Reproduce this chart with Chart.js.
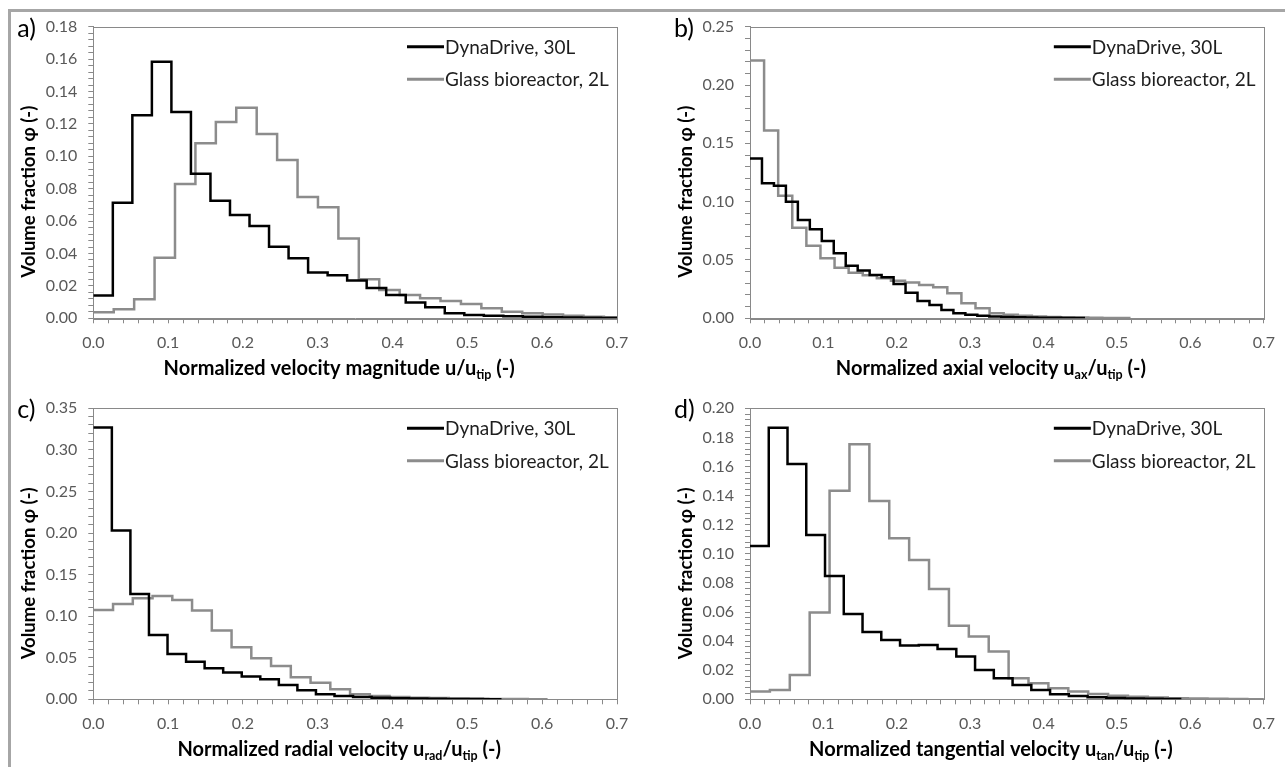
<!DOCTYPE html>
<html>
<head>
<meta charset="utf-8">
<script src="https://cdn.jsdelivr.net/npm/chart.js@4.4.0/dist/chart.umd.min.js"></script>
<style>
body { margin: 0; background: #fff; width: 1285px; height: 767px; overflow: hidden; position: relative; }
.frame { position: absolute; left: 8px; top: 9px; width: 1300px; height: 780px; border: 3px solid #a6a6a6; box-sizing: border-box; }
canvas { position: absolute; }
</style>
</head>
<body>
<div class="frame"></div>
<canvas id="chartA" width="640" height="384" style="left:0;top:0"></canvas>
<canvas id="chartB" width="645" height="384" style="left:640px;top:0"></canvas>
<canvas id="chartC" width="640" height="383" style="left:0;top:384px"></canvas>
<canvas id="chartD" width="645" height="383" style="left:640px;top:384px"></canvas>
<script>
const seriesNames = ['DynaDrive, 30L', 'Glass bioreactor, 2L'];

// a) velocity magnitude (bin width read from the step spacing)
const aDynaBin = 0.0261;
const aDyna = [0.014, 0.0714, 0.1253, 0.1584, 0.1274, 0.0893, 0.0726, 0.0638, 0.057, 0.0442, 0.037, 0.0282, 0.0265, 0.0233, 0.0187, 0.0144, 0.0097, 0.0068, 0.0031, 0.002, 0.0015, 0.0012, 0.001, 0.0007, 0.0005, 0.0003, 0.0002];
const aGlassBin = 0.0273;
const aGlass = [0.0037, 0.0056, 0.0117, 0.0374, 0.0829, 0.108, 0.1212, 0.13, 0.1138, 0.0977, 0.0749, 0.0685, 0.0492, 0.0241, 0.0175, 0.0144, 0.0123, 0.0107, 0.0088, 0.0062, 0.0041, 0.0031, 0.0023, 0.0016, 0.001, 0.0006];

// b) axial
const bDynaBin = 0.0163;
const bDyna = [0.137, 0.1157, 0.1137, 0.1, 0.0843, 0.0763, 0.0663, 0.0557, 0.0451, 0.0409, 0.0371, 0.0351, 0.0294, 0.022, 0.0149, 0.0114, 0.0071, 0.0043, 0.003, 0.0022, 0.0016, 0.0012, 0.0009, 0.0007, 0.0005, 0.0004, 0.0003, 0.0002];
const bGlassBin = 0.0192;
const bGlass = [0.221, 0.161, 0.105, 0.0777, 0.0623, 0.0514, 0.0434, 0.0391, 0.0369, 0.0343, 0.0323, 0.0306, 0.0286, 0.0266, 0.0214, 0.0129, 0.0086, 0.0043, 0.003, 0.0022, 0.0016, 0.0012, 0.0009, 0.0006, 0.0004, 0.0003, 0.0002];

// c) radial
const cDynaBin = 0.0248;
const cDyna = [0.327, 0.203, 0.1267, 0.0774, 0.0545, 0.0453, 0.0373, 0.0321, 0.0273, 0.024, 0.0172, 0.011, 0.006, 0.004, 0.0028, 0.002, 0.0014, 0.001, 0.0007, 0.0005, 0.0003, 0.0002];
const cGlassBin = 0.0264;
const cGlass = [0.1075, 0.1147, 0.1215, 0.1243, 0.1195, 0.1067, 0.0826, 0.0625, 0.0493, 0.0401, 0.0265, 0.02, 0.012, 0.006, 0.004, 0.0028, 0.002, 0.0015, 0.001, 0.0008, 0.0005, 0.0003, 0.0002];

// d) tangential
const dDynaBin = 0.02555;
const dDyna = [0.1054, 0.1867, 0.1617, 0.1129, 0.0848, 0.0586, 0.0463, 0.0408, 0.0369, 0.0373, 0.0346, 0.0295, 0.0202, 0.0144, 0.0099, 0.0064, 0.0034, 0.0023, 0.0014, 0.0009, 0.0005, 0.0003, 0.0002];
const dGlassBin = 0.0271;
const dGlass = [0.0053, 0.0064, 0.0167, 0.0596, 0.1434, 0.1753, 0.1363, 0.1107, 0.0958, 0.0758, 0.0506, 0.0431, 0.0328, 0.0144, 0.011, 0.0076, 0.0053, 0.0037, 0.0025, 0.0018, 0.0012, 0.0008, 0.0005, 0.0003, 0.0002, 0.0001];

const xMax = 0.7, xMajor = 0.1, xMinor = 0.02;

const axisGray = '#898989';
const tickText = '#595959';
const fontName = 'Lato';

// histogram bins -> step points (left edges + closing right edge)
function binPoints(values, width) {
    const pts = values.map((v, i) => ({ x: i * width, y: v }));
    pts.push({ x: values.length * width, y: values[values.length - 1] });
    return pts;
}

function isMultiple(v, step) {
    const r = v / step;
    return Math.abs(r - Math.round(r)) < 1e-6;
}

function drawRich(ctx, parts, cx, y) {
    const mainFont = 'bold 20px ' + fontName;
    const subFont = 'bold 12.5px ' + fontName;
    let w = 0;
    parts.forEach(p => { ctx.font = p[1] ? subFont : mainFont; w += ctx.measureText(p[0]).width; });
    let x = cx - w / 2;
    ctx.textAlign = 'left';
    ctx.textBaseline = 'alphabetic';
    parts.forEach(p => {
        ctx.font = p[1] ? subFont : mainFont;
        ctx.fillText(p[0], x, p[1] ? y + 4 : y);
        x += ctx.measureText(p[0]).width;
    });
}

const panelDecor = {
    id: 'panelDecor',
    beforeDatasetsDraw(chart) {
        const a = chart.chartArea;
        const ctx = chart.ctx;
        ctx.save();
        ctx.strokeStyle = axisGray;
        ctx.lineWidth = 1;
        ctx.strokeRect(Math.round(a.left) + 0.5, Math.round(a.top) + 0.5, Math.round(a.right - a.left), Math.round(a.bottom - a.top));
        ctx.restore();
    },
    afterDraw(chart, args, opts) {
        const a = chart.chartArea;
        const ctx = chart.ctx;
        ctx.save();
        ctx.fillStyle = '#000';

        // panel letter
        ctx.font = '25px ' + fontName;
        ctx.textAlign = 'left';
        ctx.textBaseline = 'alphabetic';
        ctx.fillText(opts.letter, a.left - 76, a.top + 10);

        // y title
        ctx.save();
        ctx.translate(a.left - 64, a.top + 165);
        ctx.rotate(-Math.PI / 2);
        ctx.font = 'bold 18.5px ' + fontName;
        ctx.textAlign = 'center';
        ctx.textBaseline = 'middle';
        ctx.fillText('Volume fraction φ (-)', 0, 0);
        ctx.restore();

        // x title with subscripts
        drawRich(ctx, opts.xTitle, (a.left + a.right) / 2 - 16, a.bottom + 57);

        // legend
        const sets = chart.data.datasets;
        ctx.font = '19px ' + fontName;
        ctx.textBaseline = 'middle';
        sets.forEach((ds, i) => {
            const y = a.top + 20 + i * 32.5;
            const x0 = a.right - 210;
            ctx.strokeStyle = ds.borderColor;
            ctx.lineWidth = 3;
            ctx.beginPath();
            ctx.moveTo(x0, y);
            ctx.lineTo(x0 + 37, y);
            ctx.stroke();
            ctx.fillStyle = '#1e1e1e';
            ctx.fillText(ds.label, x0 + 38, y + 1);
        });
        ctx.restore();
    }
};

function makePanel(id, dyna, dynaBin, glass, glassBin, yMax, yMajor, yMinor, letter, xTitle, pad) {
    return new Chart(document.getElementById(id), {
        type: 'line',
        data: {
            datasets: [{
                label: seriesNames[0],
                data: binPoints(dyna, dynaBin),
                borderColor: '#000000',
                borderWidth: 2.5,
                stepped: 'before',
                pointRadius: 0,
                fill: false,
                order: 1
            }, {
                label: seriesNames[1],
                data: binPoints(glass, glassBin),
                borderColor: '#8c8c8c',
                borderWidth: 2.5,
                stepped: 'before',
                pointRadius: 0,
                fill: false,
                order: 2
            }]
        },
        options: {
            responsive: false,
            animation: false,
            devicePixelRatio: 1,
            layout: { padding: pad },
            plugins: {
                legend: { display: false },
                tooltip: { enabled: false },
                panelDecor: { letter: letter, xTitle: xTitle }
            },
            scales: {
                x: {
                    type: 'linear',
                    min: 0,
                    max: xMax,
                    afterFit: s => { s.height = 30; },
                    border: { color: axisGray },
                    grid: { drawOnChartArea: false, color: axisGray, tickLength: 5 },
                    ticks: {
                        stepSize: xMinor,
                        autoSkip: false,
                        maxRotation: 0,
                        padding: 10,
                        color: tickText,
                        font: { family: fontName, size: 16 },
                        callback: v => isMultiple(v, xMajor) ? v.toFixed(1) : ''
                    }
                },
                y: {
                    min: 0,
                    max: yMax,
                    afterFit: s => { s.width = 80; },
                    border: { color: axisGray },
                    grid: { drawOnChartArea: false, color: axisGray, tickLength: 5 },
                    ticks: {
                        stepSize: yMinor,
                        autoSkip: false,
                        padding: 11,
                        color: tickText,
                        font: { family: fontName, size: 16 },
                        callback: v => isMultiple(v, yMajor) ? v.toFixed(2) : ''
                    }
                }
            }
        },
        plugins: [panelDecor]
    });
}

makePanel('chartA', aDyna, aDynaBin, aGlass, aGlassBin, 0.18, 0.02, 0.004, 'a)',
    [['Normalized velocity magnitude u/u', false], ['tip', true], [' (-)', false]],
    { left: 13.3, right: 23, top: 26.7, bottom: 35.7 });
makePanel('chartB', bDyna, bDynaBin, bGlass, bGlassBin, 0.25, 0.05, 0.01, 'b)',
    [['Normalized axial velocity u', false], ['ax', true], ['/u', false], ['tip', true], [' (-)', false]],
    { left: 30, right: 11.7, top: 26.7, bottom: 35.7 });
makePanel('chartC', cDyna, cDynaBin, cGlass, cGlassBin, 0.35, 0.05, 0.01, 'c)',
    [['Normalized radial velocity u', false], ['rad', true], ['/u', false], ['tip', true], [' (-)', false]],
    { left: 13.3, right: 23, top: 24.3, bottom: 37.7 });
makePanel('chartD', dDyna, dDynaBin, dGlass, dGlassBin, 0.2, 0.02, 0.004, 'd)',
    [['Normalized tangential velocity u', false], ['tan', true], ['/u', false], ['tip', true], [' (-)', false]],
    { left: 30, right: 11.7, top: 24.3, bottom: 37.7 });
</script>
</body>
</html>
